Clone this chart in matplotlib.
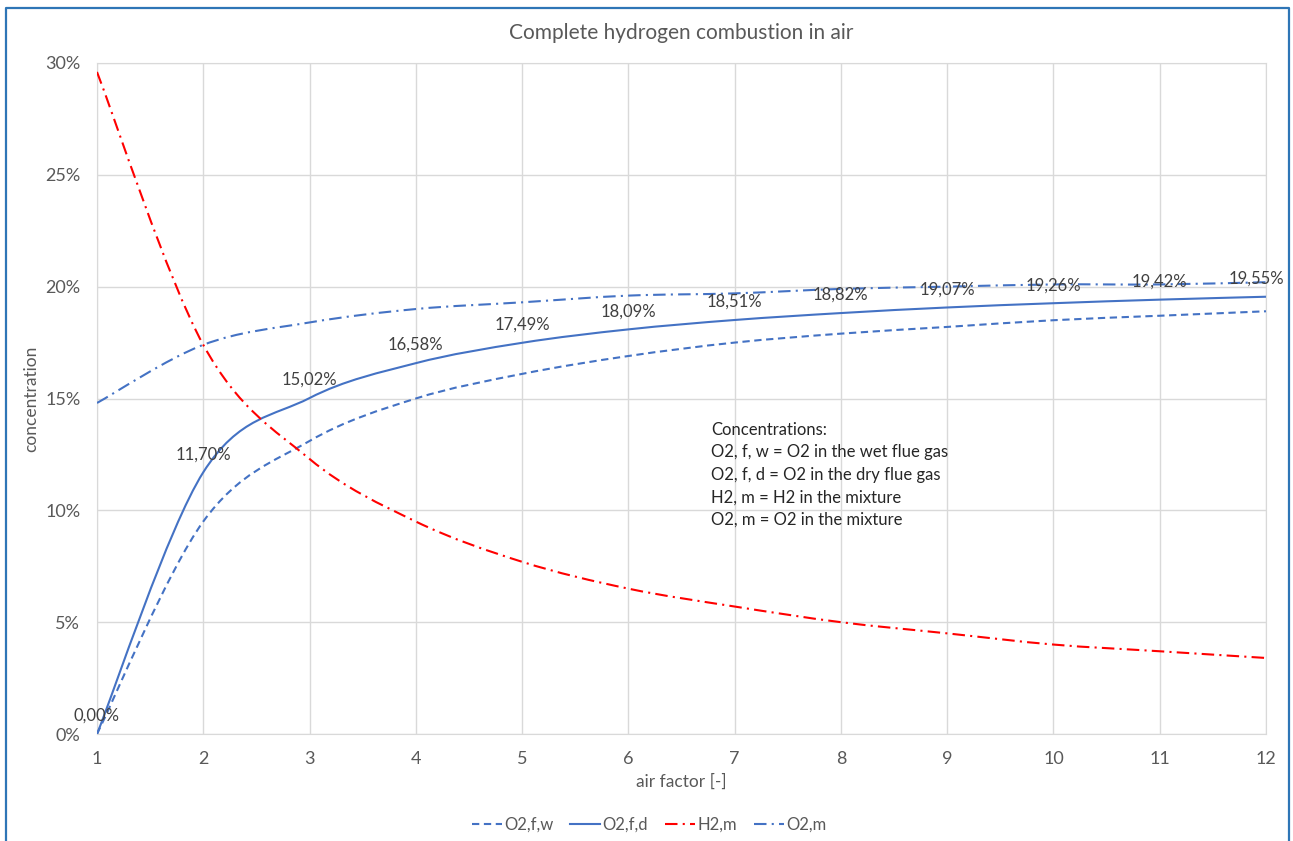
import numpy as np
import matplotlib
matplotlib.use("Agg")
import matplotlib.pyplot as plt
from matplotlib.path import Path
from matplotlib.patches import PathPatch
from matplotlib.lines import Line2D

plt.rcParams['font.family'] = ['Lato', 'DejaVu Sans']

# data (percent)
air_factor = [1, 2, 3, 4, 5, 6, 7, 8, 9, 10, 11, 12]
o2_f_w = [0.0, 9.5, 13.1, 15.0, 16.1, 16.9, 17.5, 17.9, 18.2, 18.5, 18.7, 18.9]
o2_f_d = [0.00, 11.70, 15.02, 16.58, 17.49, 18.09, 18.51, 18.82, 19.07, 19.26, 19.42, 19.55]
h2_m = [29.6, 17.4, 12.3, 9.5, 7.7, 6.5, 5.7, 5.0, 4.5, 4.0, 3.7, 3.4]
o2_m = [14.8, 17.4, 18.4, 19.0, 19.3, 19.6, 19.7, 19.9, 20.0, 20.1, 20.1, 20.2]

series_names = ['O2,f,w', 'O2,f,d', 'H2,m', 'O2,m']
note_lines = ['Concentrations:',
              'O2, f, w = O2 in the wet flue gas',
              'O2, f, d = O2 in the dry flue gas',
              'H2, m = H2 in the mixture',
              'O2, m = O2 in the mixture']

BLUE = '#4472C4'
RED = '#FF0000'
GREY = '#595959'
GRID = '#D9D9D9'

DASH = (0, (3.5, 2.2))
DASHDOT = (0, (6, 2.5, 1, 2.5))


def smooth_path(x, y):
    # excel style smoothed line: cubic bezier through every point
    pts = np.column_stack([x, y]).astype(float)
    n = len(pts)
    verts = [pts[0]]
    codes = [Path.MOVETO]
    for i in range(n - 1):
        p0 = pts[max(i - 1, 0)]
        p1 = pts[i]
        p2 = pts[i + 1]
        p3 = pts[min(i + 2, n - 1)]
        verts += [p1 + (p2 - p0) / 6, p2 - (p3 - p1) / 6, p2]
        codes += [Path.CURVE4] * 3
    return Path(verts, codes)


fig = plt.figure(figsize=(12.93, 8.41), dpi=100)
ax = fig.add_axes([0.075, 0.1272, 0.9041, 0.7979])

styles = [(o2_f_w, BLUE, DASH), (o2_f_d, BLUE, '-'), (h2_m, RED, DASHDOT), (o2_m, BLUE, DASHDOT)]
handles = []
for (vals, col, ls), name in zip(styles, series_names):
    ax.add_patch(PathPatch(smooth_path(air_factor, vals), fill=False,
                           edgecolor=col, linestyle=ls, linewidth=1.5, zorder=3))
    handles.append(Line2D([], [], color=col, linestyle=ls, linewidth=1.5, label=name))

# data labels on the dry flue gas series
for i, (xv, yv) in enumerate(zip(air_factor, o2_f_d)):
    dx = -7 if i == len(air_factor) - 1 else 0
    ax.annotate(f'{yv:.2f}%'.replace('.', ','), (xv, yv), xytext=(dx, 13),
                textcoords='offset points', ha='center', va='center',
                fontsize=12, color='#404040', zorder=4)

ax.text(6.78, 13.95, '\n'.join(note_lines), ha='left', va='top',
        fontsize=12, color='#262626', linespacing=1.5)

ax.set_xlim(1, 12)
ax.set_ylim(0, 30)
ax.set_xticks(air_factor)
ax.set_yticks(range(0, 31, 5))
ax.set_yticklabels([f'{v}%' for v in range(0, 31, 5)])
ax.tick_params(length=0, labelsize=13, colors=GREY, pad=12)
ax.tick_params(axis='y', pad=12)
ax.grid(True, color=GRID, linewidth=1)
ax.set_axisbelow(True)
for s in ax.spines.values():
    s.set_color(GRID)

ax.set_xlabel('air factor [-]', fontsize=12.5, color=GREY, labelpad=5)
ax.set_ylabel('concentration', fontsize=12.5, color=GREY, labelpad=4)
ax.set_title('Complete hydrogen combustion in air', fontsize=15, color=GREY, pad=17)

fig.legend(handles=handles, loc='center', bbox_to_anchor=(0.502, 0.019), ncol=4,
           frameon=False, fontsize=12, handlelength=1.8, columnspacing=1.0,
           handletextpad=0.15, labelcolor=GREY)

# blue frame around the chart
bx0, bx1, by1 = 6 / 1293, 1289 / 1293, 1 - 8 / 841
fig.add_artist(Line2D([bx0, bx0, bx1, bx1], [0, by1, by1, 0], color='#2E75B6',
                      linewidth=1.6, transform=fig.transFigure))

fig.savefig('out.png', dpi=100)
